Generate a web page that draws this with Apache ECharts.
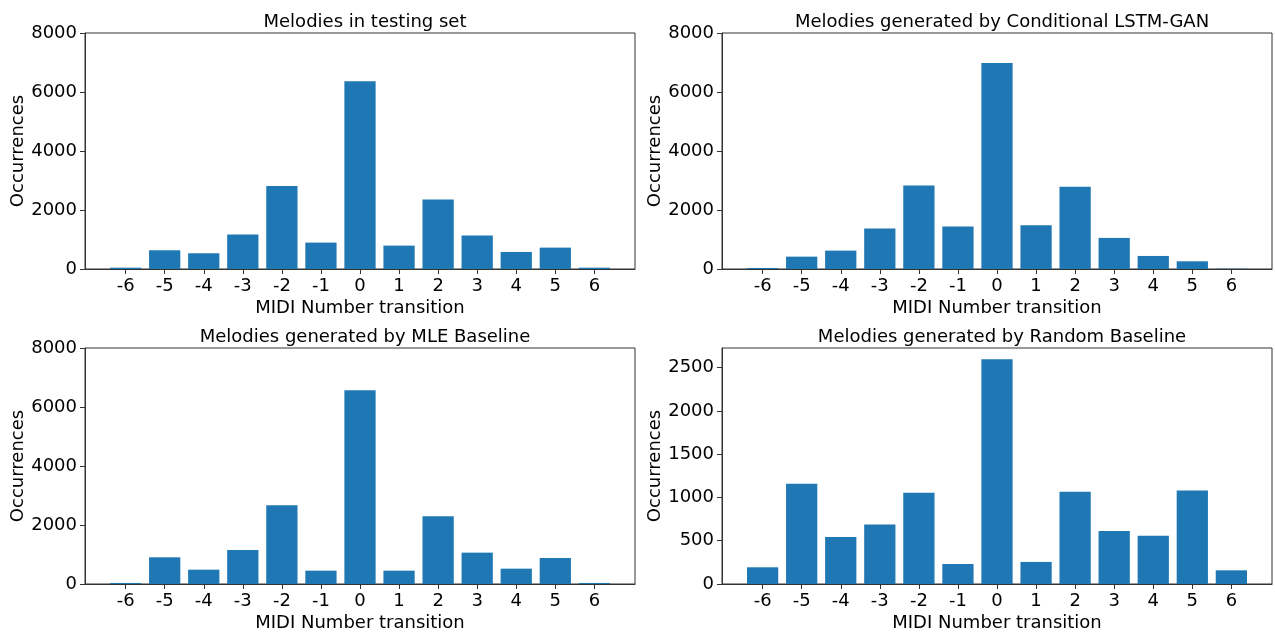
<!DOCTYPE html>
<html>
<head>
<meta charset="utf-8">
<script src="https://cdn.jsdelivr.net/npm/echarts@6/dist/echarts.min.js"></script>
<style>
html,body{margin:0;padding:0;background:#fff;}
#chart{width:1275px;height:635px;}
</style>
</head>
<body>
<div id="chart"></div>
<script>
// ---- data ----
const transitions = [-6, -5, -4, -3, -2, -1, 0, 1, 2, 3, 4, 5, 6];
const panelTitles = [
  'Melodies in testing set',
  'Melodies generated by Conditional LSTM-GAN',
  'Melodies generated by MLE Baseline',
  'Melodies generated by Random Baseline'
];
const testingSet = [45, 635, 533, 1167, 2810, 895, 6368, 793, 2357, 1133, 578, 725, 45];
const lstmGan = [35, 419, 623, 1371, 2833, 1439, 6980, 1484, 2788, 1054, 442, 261, 10];
const mleBaseline = [35, 905, 486, 1154, 2670, 452, 6572, 452, 2296, 1063, 520, 882, 35];
const randomBaseline = [193, 1157, 544, 687, 1053, 231, 2596, 255, 1065, 613, 556, 1080, 158];
const yTicks8000 = [0, 2000, 4000, 6000, 8000];
const yTicksRandom = [0, 500, 1000, 1500, 2000, 2500];
const yMax8000 = 8000;
const yMaxRandom = 2726;
const xMin = -7.04, xMax = 7.04;

// ---- layout ----
const FONT = 'DejaVu Sans';
const grids = [
  {left: 85, top: 33, width: 550, height: 236},
  {left: 722, top: 33, width: 550, height: 236},
  {left: 85, top: 348, width: 550, height: 236},
  {left: 722, top: 348, width: 550, height: 236}
];
const seriesData = [testingSet, lstmGan, mleBaseline, randomBaseline];
const yMaxes = [yMax8000, yMax8000, yMax8000, yMaxRandom];
const yTickSets = [yTicks8000, yTicks8000, yTicks8000, yTicksRandom];

const chart = echarts.init(document.getElementById('chart'), null, {renderer: 'canvas'});

const option = {
  animation: false,
  backgroundColor: '#fff',
  textStyle: {fontFamily: FONT},
  title: grids.map((g, i) => ({
    text: panelTitles[i],
    left: g.left + g.width / 2,
    top: g.top - 25,
    textAlign: 'center',
    textStyle: {fontFamily: FONT, fontSize: 18, fontWeight: 'normal', color: '#000'}
  })),
  grid: grids.map(g => Object.assign({show: true, borderColor: '#333', borderWidth: 1, backgroundColor: 'transparent'}, g)),
  xAxis: grids.map((g, i) => ({
    type: 'value',
    gridIndex: i,
    min: xMin,
    max: xMax,
    name: 'MIDI Number transition',
    nameLocation: 'middle',
    nameGap: 30,
    nameTextStyle: {fontFamily: FONT, fontSize: 18, color: '#000'},
    axisLine: {show: true, onZero: false, lineStyle: {color: '#333', width: 1}},
    axisTick: {show: true, length: 5, lineStyle: {color: '#333'}, customValues: transitions},
    axisLabel: {show: true, margin: 8, fontFamily: FONT, fontSize: 18, color: '#000', customValues: transitions,
      formatter: v => String(v)},
    splitLine: {show: false}
  })),
  yAxis: grids.map((g, i) => ({
    type: 'value',
    gridIndex: i,
    min: 0,
    max: yMaxes[i],
    name: 'Occurrences',
    nameLocation: 'middle',
    nameGap: 50,
    nameTextStyle: {fontFamily: FONT, fontSize: 18, color: '#000'},
    axisLine: {show: true, onZero: false, lineStyle: {color: '#333', width: 1}},
    axisTick: {show: true, length: 5, lineStyle: {color: '#333'}, customValues: yTickSets[i]},
    axisLabel: {show: true, margin: 8, fontFamily: FONT, fontSize: 18, color: '#000', customValues: yTickSets[i],
      formatter: v => String(v)},
    splitLine: {show: false}
  })),
  series: seriesData.map((d, i) => ({
    type: 'bar',
    xAxisIndex: i,
    yAxisIndex: i,
    barWidth: 0.8 * grids[i].width / (xMax - xMin),
    itemStyle: {color: '#1f77b4'},
    data: transitions.map((t, k) => [t, d[k]])
  }))
};

chart.setOption(option);
</script>
</body>
</html>
